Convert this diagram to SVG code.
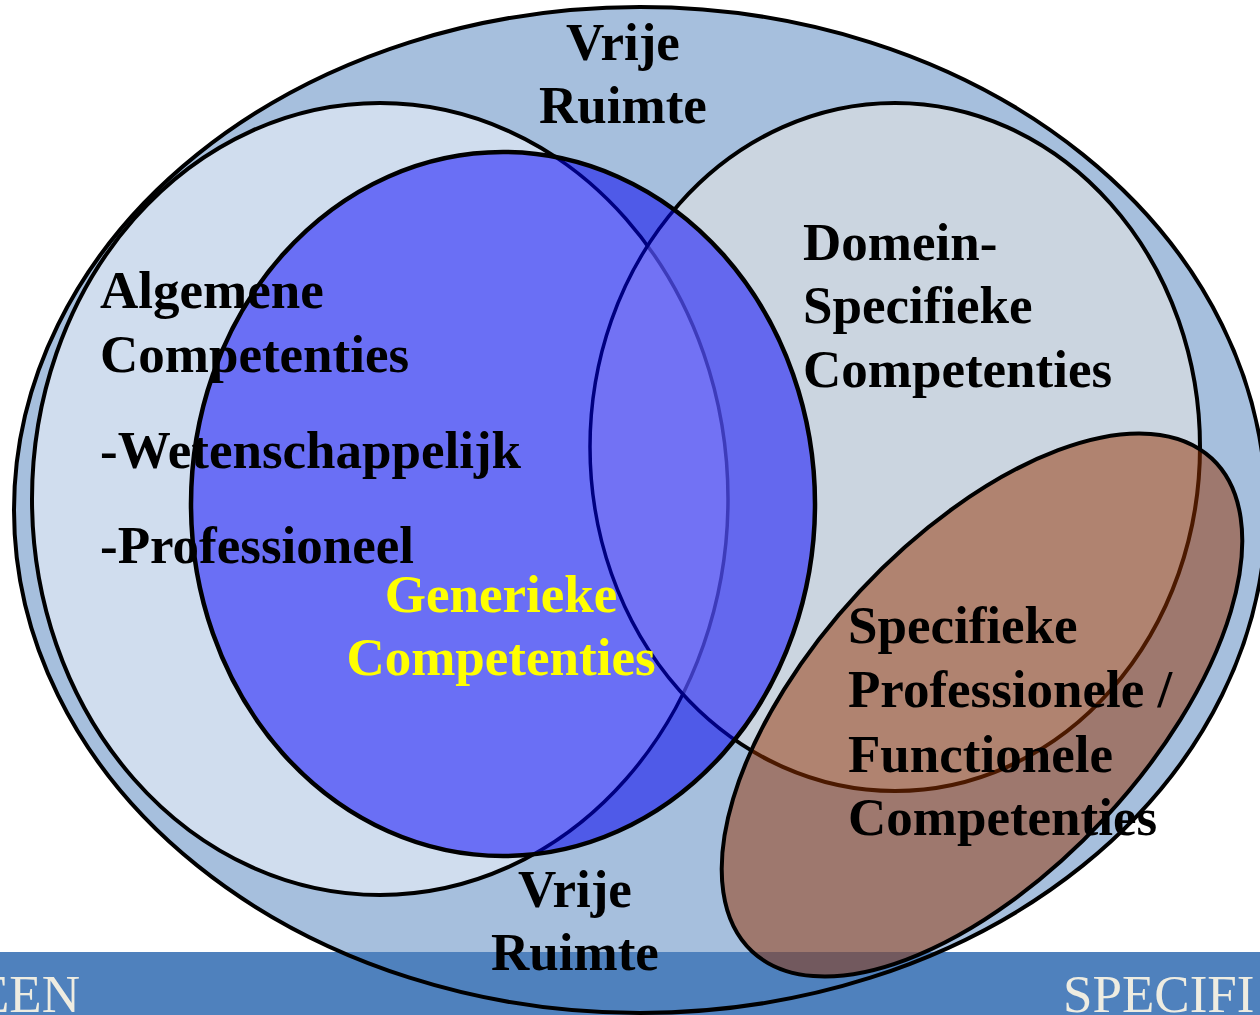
<svg xmlns="http://www.w3.org/2000/svg" width="1260" height="1015" viewBox="0 0 1260 1015">
<style>
.lbl{font-family:"Liberation Serif","Times New Roman",serif;font-weight:bold;font-size:53px;fill:#000}
.yel{fill:#ffff00}
.band{font-family:"Liberation Serif","Times New Roman",serif;font-size:53px;fill:#eeece1}
.ln{fill:none;stroke:#000;stroke-width:4}
</style>
<defs>
<clipPath id="blueClip"><ellipse cx="503" cy="504" rx="312" ry="352"/></clipPath>
</defs>
<rect width="1260" height="1015" fill="#fff"/>
<g id="outer">
<ellipse cx="640" cy="510" rx="626" ry="503" fill="#a6bfdd"/>
</g>
<g id="bottom-band">
<rect x="0" y="952" width="1260" height="63" fill="#4f81bd"/>
<text class="band" x="80" y="1012" text-anchor="end">EEN</text>
<text class="band" x="1063" y="1012">SPECIFI</text>
</g>
<ellipse class="ln" cx="640" cy="510" rx="626" ry="503"/>
<g id="algemene">
<ellipse cx="380" cy="499" rx="348" ry="396" fill="#d0ddee" stroke="#000" stroke-width="4"/>
</g>
<g id="domein">
<ellipse cx="895" cy="447" rx="305" ry="344" fill="#cbd5e0" stroke="#000" stroke-width="4"/>
</g>
<g id="generiek">
<g clip-path="url(#blueClip)">
<rect x="180" y="140" width="650" height="730" fill="#4f5ae8"/>
<ellipse cx="380" cy="499" rx="348" ry="396" fill="#6a6ff5" stroke="#000080" stroke-width="3.5"/>
<ellipse cx="895" cy="447" rx="305" ry="344" fill="rgb(122,118,244)" fill-opacity="0.5" stroke="#000080" stroke-width="3.5"/>
</g>
<ellipse cx="503" cy="504" rx="312" ry="352" fill="none" stroke="#000" stroke-width="4.5"/>
</g>
<g id="specifiek">
<ellipse cx="982" cy="705" rx="337" ry="167" transform="rotate(-47 982 705)" fill="rgb(150,50,0)" fill-opacity="0.5" stroke="#000" stroke-width="4"/>
</g>
<g id="labels">
<text class="lbl" x="623" y="60" text-anchor="middle">Vrije</text>
<text class="lbl" x="623" y="123" text-anchor="middle">Ruimte</text>
<text class="lbl" x="100" y="308">Algemene</text>
<text class="lbl" x="100" y="372">Competenties</text>
<text class="lbl" x="100" y="468">-Wetenschappelijk</text>
<text class="lbl" x="100" y="563">-Professioneel</text>
<text class="lbl" x="803" y="260">Domein-</text>
<text class="lbl" x="803" y="323">Specifieke</text>
<text class="lbl" x="803" y="387">Competenties</text>
<text class="lbl yel" x="501" y="612" text-anchor="middle">Generieke</text>
<text class="lbl yel" x="501" y="675" text-anchor="middle">Competenties</text>
<text class="lbl" x="848" y="643">Specifieke</text>
<text class="lbl" x="848" y="707">Professionele /</text>
<text class="lbl" x="848" y="772">Functionele</text>
<text class="lbl" x="848" y="835">Competenties</text>
<text class="lbl" x="575" y="907" text-anchor="middle">Vrije</text>
<text class="lbl" x="575" y="970" text-anchor="middle">Ruimte</text>
</g>
</svg>
